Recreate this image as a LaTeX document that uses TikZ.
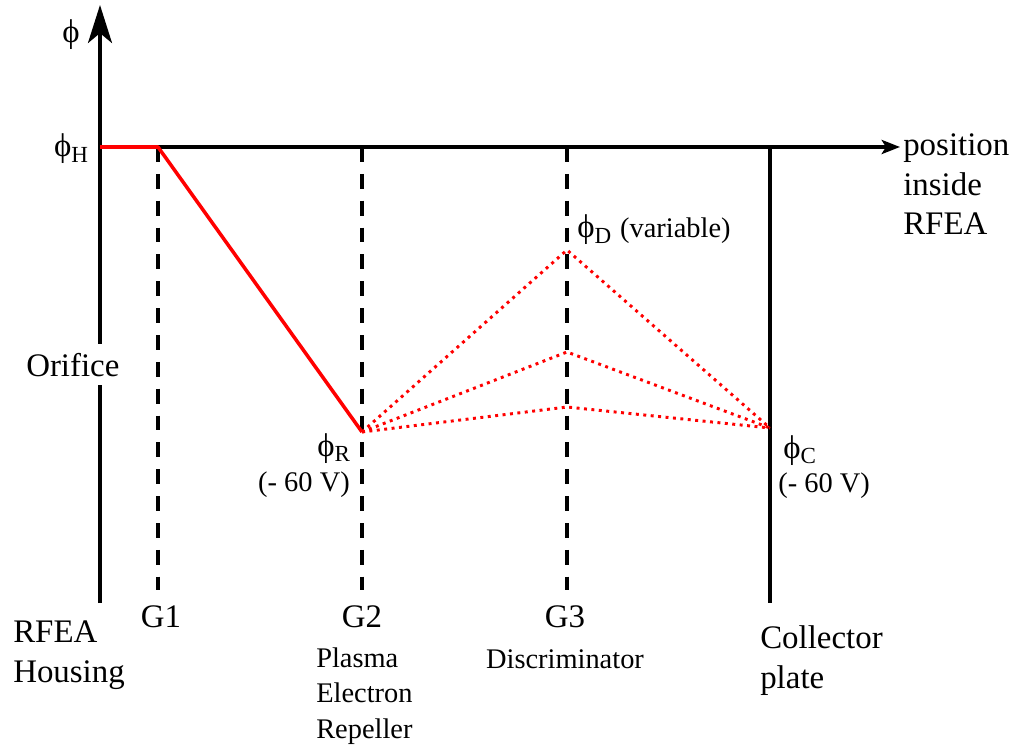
\documentclass[tikz,border=0pt]{standalone}
\usepackage{fontspec}
\setmainfont{Liberation Serif}
\usepackage{xcolor}
\usepackage{tikz}
\usetikzlibrary{arrows.meta, positioning, calc}
\definecolor{potred}{HTML}{FF0000}
\newcommand{\ph}{\symbol{"03D5}}

\begin{document}
\begin{tikzpicture}[
    x=0.025cm, y=-0.025cm,
    axis/.style={line width=2.8pt, black},
    grid/.style={line width=2.8pt, black, dash pattern=on 10.6pt off 8.5pt},
    plate/.style={line width=2.8pt, black},
    pot/.style={line width=2.5pt, color=potred, line join=round},
    potvar/.style={line width=2.1pt, color=potred, dash pattern=on 2.1pt off 3.2pt},
    big/.style={inner sep=0pt, font=\fontsize{23.4}{28.3}\selectfont, align=left},
    small/.style={inner sep=0pt, font=\fontsize{20.2}{25}\selectfont, align=left},
]
    \useasboundingbox (0,0) rectangle (1018,747);

    % axes
    \coordinate (origin) at (100,603);
    \coordinate (ytip)   at (100,5);
    \coordinate (home)   at (100,147);
    \coordinate (xtip)   at (900,147);
    \draw[axis, -{Stealth[length=27pt, width=17pt, inset=7pt]}] (origin) -- (ytip);
    \draw[axis, -{Stealth[length=13pt, width=10pt, inset=3pt]}] (home) -- (xtip);

    % grids and collector
    \coordinate (g1t) at (158,147);  \coordinate (g1b) at (158,590);
    \coordinate (g2t) at (362,147);  \coordinate (g2b) at (362,590);
    \coordinate (g3t) at (567,147);  \coordinate (g3b) at (567,590);
    \coordinate (ct)  at (770,147);  \coordinate (cb)  at (770,603);
    \foreach \a/\b in {g1t/g1b, g2t/g2b, g3t/g3b}
        \draw[grid] (\a) -- (\b);
    \draw[plate] (ct) -- (cb);

    % potential profile
    \coordinate (phR) at (362,432);
    \coordinate (phC) at (770,428);
    \coordinate (d1) at (567,250);
    \coordinate (d2) at (567,352);
    \coordinate (d3) at (567,407);
    \draw[pot] (home) -- (g1t) -- (phR);
    \foreach \d in {d1, d2, d3}
        \draw[potvar] (phR) -- (\d) -- (phC);

    % labels
    \node[big, anchor=base] (lphi) at (71,43) {\ph};
    \node[big, anchor=base east] (lphH) at (89,157) {\ph\textsubscript{H}};
    \node[big, anchor=base west, fill=white, inner ysep=6pt] (lori) at (26,376) {Orifice};
    \node[big, anchor=base west] (lphD) at (577,238)
        {\ph\textsubscript{D} {\fontsize{20.2}{25}\selectfont(variable)}};
    \node[big, anchor=base east] (lphR) at (351,456) {\ph\textsubscript{R}};
    \node[small, anchor=base east] (lvR) at (350,491) {(- 60 V)};
    \node[big, anchor=base west] (lphC) at (783,458) {\ph\textsubscript{C}};
    \node[small, anchor=base west] (lvC) at (778,492) {(- 60 V)};

    % multi-line labels: base is the last line
    \node[big, anchor=base west] (lpos) at (903,235) {position\\inside\\RFEA};
    \node[big, anchor=base west] (lhous) at (13,682) {RFEA\\Housing};
    \node[big, anchor=base] (lg1) at (161,627) {G1};
    \node[big, anchor=base] (lg2) at (362,627) {G2};
    \node[big, anchor=base] (lg3) at (565,627) {G3};
    \node[small, anchor=base west, font=\fontsize{20.2}{25.2}\selectfont] (lrep) at (316,738)
        {Plasma\\Electron\\Repeller};
    \node[small, anchor=base] (ldisc) at (565,668) {Discriminator};
    \node[big, anchor=base west] (lcoll) at (760,688) {Collector\\plate};
\end{tikzpicture}
\end{document}
